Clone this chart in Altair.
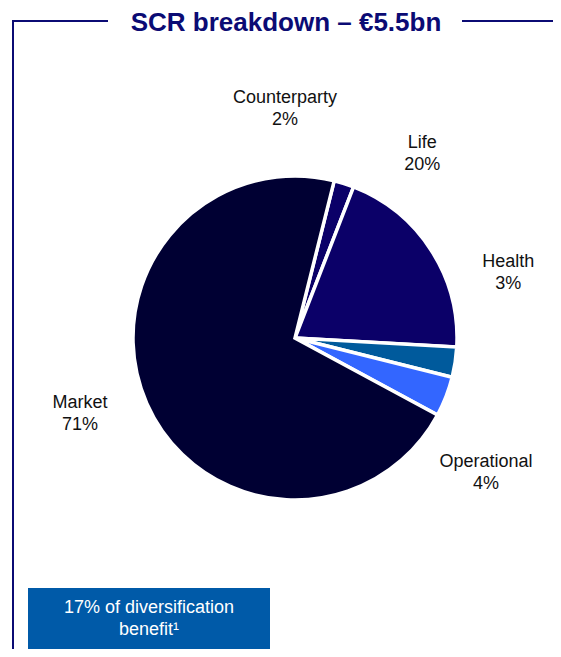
import math
import altair as alt
import pandas as pd

# ---- data ----
categories = ["Counterparty", "Life", "Health", "Operational", "Market"]
shares = [2, 20, 3, 4, 71]
colors = ["#0b0068", "#0b0068", "#005a9c", "#3366ff", "#000033"]

# label placement (layout, not data): angle in degrees clockwise from top, radius in px
label_angle_deg = [357.5, 34.6, 73.0, 125.3, 250.5]
label_radius = [229, 224, 223, 234, 228]

title_text = "SCR breakdown – €5.5bn"
box_text = ["17% of diversification", "benefit¹"]

NAVY = "#0b0b74"
FONT = "Liberation Sans"
W, H = 545, 641
CX, CY, R = 287, 330, 162
START = math.radians(14)

df = pd.DataFrame({
    "category": categories,
    "share": shares,
    "order": list(range(len(categories))),
})
lab = pd.DataFrame({
    "category": categories,
    "label": [f"{c}\n{s}%" for c, s in zip(categories, shares)],
    "ang": [math.radians(a) for a in label_angle_deg],
    "rad": label_radius,
})

pie = alt.Chart(df).mark_arc(stroke="white", strokeWidth=3.5).encode(
    theta=alt.Theta("share:Q", stack=True,
                    scale=alt.Scale(range=[START, START + 2 * math.pi])),
    order=alt.Order("order:Q"),
    color=alt.Color("category:N", sort=categories,
                    scale=alt.Scale(domain=categories, range=colors), legend=None),
    x=alt.value(CX), y=alt.value(CY),
    radius=alt.value(R),
)

labels = alt.Chart(lab).mark_text(
    font=FONT, fontSize=18, color="#111111", align="center", baseline="middle",
    lineBreak="\n", lineHeight=22, dy=-11,
).encode(
    theta=alt.Theta("ang:Q", scale=None),
    radius=alt.Radius("rad:Q", scale=None),
    x=alt.value(CX), y=alt.value(CY),
    text="label:N",
)

title = alt.Chart(pd.DataFrame({"t": [title_text]})).mark_text(
    font=FONT, fontSize=26, fontWeight="bold", color=NAVY,
    align="center", baseline="alphabetic",
).encode(x=alt.value(278), y=alt.value(23), text="t:N")

line_left = alt.Chart(pd.DataFrame({"a": [0]})).mark_rule(color=NAVY, strokeWidth=2).encode(
    x=alt.value(5), x2=alt.value(100), y=alt.value(13))
line_right = alt.Chart(pd.DataFrame({"a": [0]})).mark_rule(color=NAVY, strokeWidth=2).encode(
    x=alt.value(454), x2=alt.value(560), y=alt.value(13))
line_down = alt.Chart(pd.DataFrame({"a": [0]})).mark_rule(color=NAVY, strokeWidth=2).encode(
    x=alt.value(5), y=alt.value(12), y2=alt.value(660))

box = alt.Chart(pd.DataFrame({"a": [0]})).mark_rect(color="#005aa8").encode(
    x=alt.value(20), x2=alt.value(262), y=alt.value(580), y2=alt.value(660))
box_label = alt.Chart(pd.DataFrame({"t": ["\n".join(box_text)]})).mark_text(
    font=FONT, fontSize=18, color="white", align="center", baseline="middle",
    lineBreak="\n", lineHeight=22, dy=-11,
).encode(x=alt.value(141), y=alt.value(611), text="t:N")

chart = alt.layer(
    line_left, line_right, line_down, title, pie, labels, box, box_label
).properties(
    width=W, height=H, padding=0, autosize=alt.AutoSizeParams(type="none"),
).configure_view(stroke=None)

chart.save("out.html", embed_options={"renderer": "svg", "actions": False})
